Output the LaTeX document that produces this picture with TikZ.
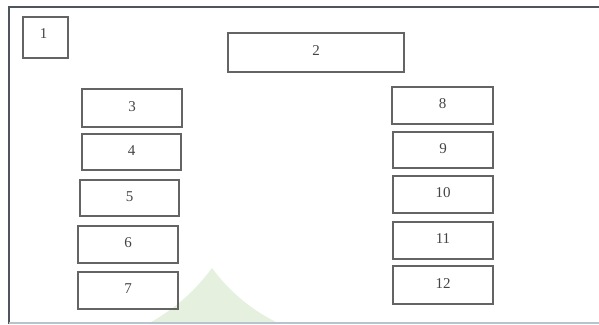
\documentclass[tikz,border=0pt]{standalone}
\usepackage{fontspec}
\setmainfont{Liberation Serif}
\definecolor{boxline}{HTML}{646464}
\definecolor{boxtext}{HTML}{444444}
\definecolor{frameline}{HTML}{4E555C}
\definecolor{bottomline}{HTML}{B8C4CC}
\definecolor{wmgreen}{HTML}{E5F0DF}
\begin{document}
\begin{tikzpicture}[x=1pt,y=-1pt,
  cell/.style={draw=boxline,line width=1.2pt,inner sep=0pt,font=\fontsize{15}{17}\selectfont,
    text=boxtext,text depth=3pt,anchor=center},
  lbl/.style={inner sep=0pt,font=\fontsize{15}{17}\selectfont,text=boxtext}]
\useasboundingbox (0,0) rectangle (599,324);
% watermark
\fill[wmgreen] (212,268) .. controls (232,295) and (255,312) .. (280,324)
  -- (148,324) .. controls (172,310) and (192,295) .. (212,268) -- cycle;
% frame
\draw[frameline,line width=2.8pt] (599,7) -- (9,7) -- (9,324);
\draw[bottomline,line width=1.2pt] (9,323) -- (599,323);
% box 1
\node[draw=boxline,line width=1.2pt,minimum width=45pt,minimum height=41pt,inner sep=0pt] (b1) at (45.5,37.5) {};
\node[lbl] (t1) at (43.5,34) {1};
% other boxes
\node[cell,minimum width=176pt,minimum height=39pt] (b2) at (316,52.5) {2};
\node[cell,minimum width=100pt,minimum height=38pt] (b3) at (132,108) {3};
\node[cell,minimum width=99pt,minimum height=36pt] (b4) at (131.5,152) {4};
\node[cell,minimum width=99pt,minimum height=36pt] (b5) at (129.5,198) {5};
\node[cell,minimum width=100pt,minimum height=37pt] (b6) at (128,244.5) {6};
\node[cell,minimum width=100pt,minimum height=37pt] (b7) at (128,290.5) {7};
\node[cell,minimum width=101pt,minimum height=37pt] (b8) at (442.5,105.5) {8};
\node[cell,minimum width=100pt,minimum height=36pt] (b9) at (443,150) {9};
\node[cell,minimum width=100pt,minimum height=37pt] (b10) at (443,194.5) {10};
\node[cell,minimum width=100pt,minimum height=37pt] (b11) at (443,240.5) {11};
\node[cell,minimum width=100pt,minimum height=38pt] (b12) at (443,285) {12};
\end{tikzpicture}
\end{document}
